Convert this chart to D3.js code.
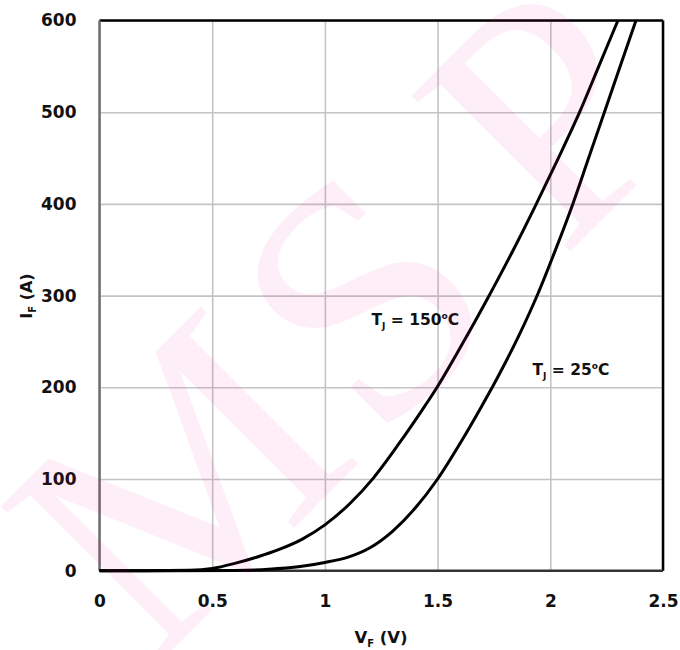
<!DOCTYPE html>
<html>
<head>
<meta charset="utf-8">
<script src="https://cdn.jsdelivr.net/npm/d3@7/dist/d3.min.js"></script>
<style>
  html, body { margin: 0; padding: 0; background: #fff; }
  svg { display: block; }
  .tick text { font-family: "DejaVu Sans", sans-serif; font-weight: bold; font-size: 17px; fill: #111; }
</style>
</head>
<body>
<svg id="chart" width="680" height="650"></svg>
<script>
// Forward voltage (V) vs forward current (A), two junction temperatures
const vf150 = [0, 0.2, 0.4, 0.5, 0.6, 0.7, 0.8, 0.9, 1.0, 1.11, 1.215, 1.33, 1.42, 1.49, 1.6, 1.72, 1.83, 1.93, 2.03, 2.13, 2.215, 2.30];
const if150 = [0, 0, 0.5, 2.5, 8, 15, 23.5, 34.5, 50, 73, 101, 139, 171, 197, 243, 296, 347, 396, 447, 500, 550, 600];

const vf25 = [0, 0.3, 0.6, 0.75, 0.89, 1.0, 1.1, 1.2, 1.3, 1.4, 1.5, 1.6, 1.69, 1.76, 1.86, 1.945, 2.02, 2.10, 2.17, 2.24, 2.31, 2.38];
const if25 = [0, 0, 0.3, 1.5, 4.5, 9, 14.5, 25, 43, 68, 100, 139, 177, 208, 256, 302, 348, 400, 450, 500, 550, 600];

const xTicks = [0, 0.5, 1, 1.5, 2, 2.5];
const xTickLabels = ["0", "0.5", "1", "1.5", "2", "2.5"];
const yTicks = [0, 100, 200, 300, 400, 500, 600];
const yTickLabels = ["0", "100", "200", "300", "400", "500", "600"];

const watermarkLetters = ["M", "S", "P"];

const svg = d3.select("#chart");
const plotLeft = 99.5, plotRight = 663, plotTop = 20.5, plotBottom = 570.7;
const W = plotRight - plotLeft, H = plotBottom - plotTop;

const x = d3.scaleLinear().domain([0, 2.5]).range([0, W]);
const y = d3.scaleLinear().domain([0, 600]).range([H, 0]);

const g = svg.append("g").attr("transform", `translate(${plotLeft},${plotTop})`);

// grid
g.append("g")
  .attr("transform", `translate(0,${H})`)
  .call(d3.axisBottom(x).tickValues(xTicks).tickSize(-H).tickFormat(""))
  .call(a => a.select(".domain").remove())
  .call(a => a.selectAll("line").attr("stroke", "#c4c4c4").attr("stroke-width", 1.6));
g.append("g")
  .call(d3.axisLeft(y).tickValues(yTicks).tickSize(-W).tickFormat(""))
  .call(a => a.select(".domain").remove())
  .call(a => a.selectAll("line").attr("stroke", "#c4c4c4").attr("stroke-width", 1.6));

// tick labels
g.append("g")
  .attr("transform", `translate(0,${H})`)
  .call(d3.axisBottom(x).tickValues(xTicks).tickSize(0).tickPadding(24)
        .tickFormat((d, i) => xTickLabels[i]))
  .call(a => a.select(".domain").remove());
g.append("g")
  .call(d3.axisLeft(y).tickValues(yTicks).tickSize(0).tickPadding(23)
        .tickFormat((d, i) => yTickLabels[i]))
  .call(a => a.select(".domain").remove());

// frame
g.append("line").attr("x1", 0).attr("x2", W).attr("y1", 0).attr("y2", 0)
  .attr("stroke", "#000").attr("stroke-width", 2.5);
g.append("line").attr("x1", W).attr("x2", W).attr("y1", 0).attr("y2", H)
  .attr("stroke", "#000").attr("stroke-width", 2.5);
g.append("line").attr("x1", 0).attr("x2", 0).attr("y1", 0).attr("y2", H)
  .attr("stroke", "#6e6e6e").attr("stroke-width", 2.5);
g.append("line").attr("x1", 0).attr("x2", W).attr("y1", H).attr("y2", H)
  .attr("stroke", "#333").attr("stroke-width", 2.5);

// curves
const line = d3.line()
  .x(d => x(d[0])).y(d => y(d[1]))
  .curve(d3.curveMonotoneX);

const series = [
  d3.zip(vf150, if150),
  d3.zip(vf25, if25)
];
g.selectAll("path.curve").data(series).join("path")
  .attr("class", "curve")
  .attr("d", line)
  .attr("fill", "none")
  .attr("stroke", "#000")
  .attr("stroke-width", 3)
  .attr("stroke-linejoin", "round");

// curve labels
function tempLabel(px, py, temp) {
  const t = svg.append("text")
    .attr("x", px).attr("y", py)
    .attr("font-family", "DejaVu Sans, sans-serif")
    .attr("font-weight", "bold")
    .attr("font-size", 15.5)
    .attr("fill", "#111");
  t.append("tspan").text("T");
  t.append("tspan").attr("font-size", 9).attr("dy", 4).text("J");
  t.append("tspan").attr("dy", -4).text(" = " + temp);
  t.append("tspan").attr("font-size", 9).attr("dy", -6).text("o");
  t.append("tspan").attr("dy", 6).text("C");
}
tempLabel(371.5, 325, "150");
tempLabel(532.5, 375, "25");

// axis titles
const yt = svg.append("text")
  .attr("transform", "translate(32,296) rotate(-90)")
  .attr("text-anchor", "middle")
  .attr("font-family", "DejaVu Sans, sans-serif")
  .attr("font-weight", "bold")
  .attr("font-size", 16)
  .attr("fill", "#111");
yt.append("tspan").text("I");
yt.append("tspan").attr("font-size", 10).attr("dy", 4).text("F");
yt.append("tspan").attr("dy", -4).text(" (A)");

const xt = svg.append("text")
  .attr("x", 381).attr("y", 643)
  .attr("text-anchor", "middle")
  .attr("font-family", "DejaVu Sans, sans-serif")
  .attr("font-weight", "bold")
  .attr("font-size", 16.5)
  .attr("fill", "#111");
xt.append("tspan").text("V");
xt.append("tspan").attr("font-size", 10).attr("dy", 4).text("F");
xt.append("tspan").attr("dy", -4).text(" (V)");

// faint diagonal watermark
const wmSize = 340;
const wm = svg.append("g")
  .attr("transform", "rotate(-45)")
  .attr("pointer-events", "none");
wm.selectAll("text").data(watermarkLetters).join("text")
  .attr("x", (d, i) => 46 + (i - 1) * 262)
  .attr("y", 469 + 0.33 * wmSize)
  .attr("text-anchor", "middle")
  .attr("font-family", "Liberation Serif, serif")
  .attr("font-size", wmSize)
  .attr("fill", "rgb(230,0,150)")
  .attr("fill-opacity", 0.065)
  .text(d => d);
</script>
</body>
</html>
